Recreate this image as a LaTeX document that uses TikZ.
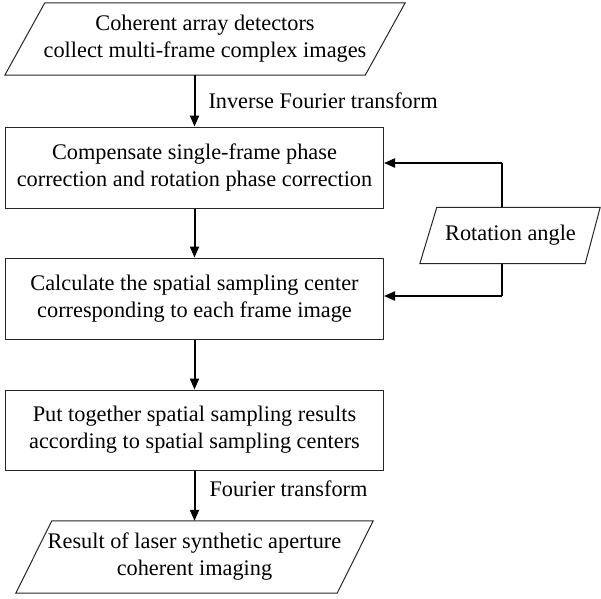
\documentclass[tikz,border=0pt]{standalone}
\usepackage{fontspec}
\setmainfont{Liberation Serif}
\usetikzlibrary{arrows.meta,calc}
\begin{document}
\begin{tikzpicture}[x=1pt,y=-1pt,
  box/.style={draw=black!85,line width=1pt,rectangle,inner sep=0pt,align=center,
    font=\fontsize{22.3}{27}\selectfont},
  ptext/.style={rectangle,inner sep=0pt,align=center,
    font=\fontsize{22.3}{27}\selectfont},
  pshape/.style={draw=black!85,line width=1pt,line join=miter},
  arr/.style={line width=2pt,-{Triangle[length=11pt,width=9pt]}},
  lbl/.style={inner sep=0pt,anchor=west,font=\fontsize{22.3}{27}\selectfont}]
\useasboundingbox (0,0) rectangle (601,598);
% top parallelogram
\node[ptext,minimum width=360,minimum height=72] (n1) at (205,39)
  {Coherent array detectors\\collect multi-frame complex images};
\draw[pshape] ([xshift=20pt]n1.north west) -- ([xshift=20pt]n1.north east)
  -- ([xshift=-20pt]n1.south east) -- ([xshift=-20pt]n1.south west) -- cycle;
% rectangles
\node[box,minimum width=378,minimum height=81] (n2) at (194.5,167.5)
  {Compensate single-frame phase\\correction and rotation phase correction};
\node[box,minimum width=378,minimum height=81] (n3) at (194.5,298.5)
  {Calculate the spatial sampling center\\corresponding to each frame image};
\node[box,minimum width=378,minimum height=80] (n4) at (194.5,430)
  {Put together spatial sampling results\\according to spatial sampling centers};
% bottom parallelogram
\node[ptext,minimum width=321,minimum height=72] (n5) at (194.5,557)
  {Result of laser synthetic aperture\\coherent imaging};
\draw[pshape] ([xshift=18pt]n5.north west) -- ([xshift=18pt]n5.north east)
  -- ([xshift=-18pt]n5.south east) -- ([xshift=-18pt]n5.south west) -- cycle;
% rotation angle
\node[ptext,minimum width=164,minimum height=56] (rot) at (510.5,235.5) {Rotation angle};
\draw[pshape] ([xshift=8.5pt]rot.north west) -- ([xshift=7.5pt]rot.north east)
  -- ([xshift=-7.5pt]rot.south east) -- ([xshift=-8.5pt]rot.south west) -- cycle;
% connectors
\draw[arr] (n1.south -| n2.north) -- node[lbl,xshift=13pt] {Inverse Fourier transform} (n2.north);
\draw[arr] (n2.south) -- (n3.north);
\draw[arr] (n3.south) -- (n4.north);
\draw[arr] (n4.south) -- node[lbl,pos=0.37,xshift=14pt] {Fourier transform} (n5.north -| n4.south);
\coordinate (j1) at (502,163);
\coordinate (j2) at (502,296);
\draw[arr,-] (rot.north -| j1) -- (j1);
\draw[arr] (j1) -- (j1 -| n2.east);
\draw[arr,-] (rot.south -| j2) -- (j2);
\draw[arr] (j2) -- (j2 -| n3.east);
\end{tikzpicture}
\end{document}
